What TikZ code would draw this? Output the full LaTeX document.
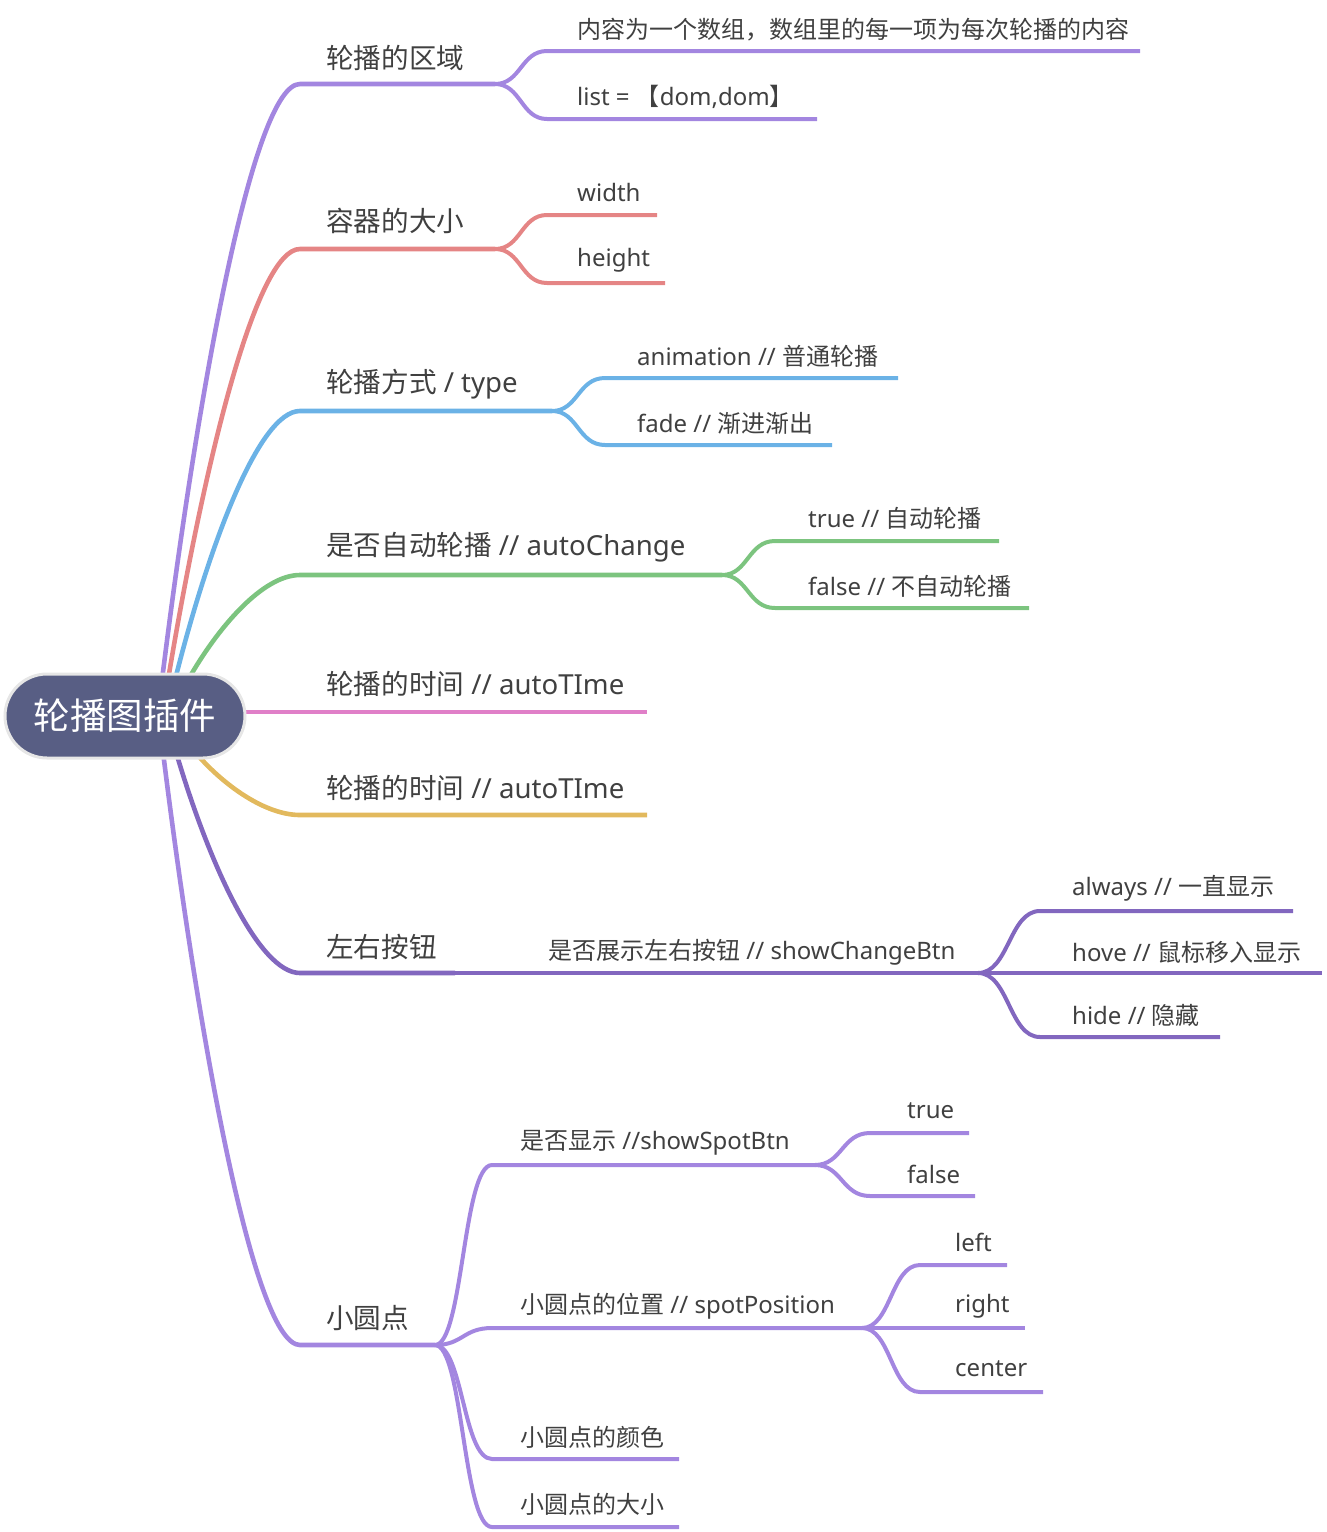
\documentclass[tikz,border=0pt]{standalone}
\usepackage{fontspec}
\setmainfont{Noto Sans CJK SC}
\newfontfamily\latinfont{Noto Sans}
\newcommand{\lt}[1]{{\latinfont #1}}
\definecolor{txt}{HTML}{404040}
\definecolor{rootfill}{HTML}{585E84}
\definecolor{rootedge}{HTML}{E6E6E6}
\definecolor{cpurple}{HTML}{A386E0}
\definecolor{cred}{HTML}{E58585}
\definecolor{cblue}{HTML}{6BB2E6}
\definecolor{cgreen}{HTML}{7CC47F}
\definecolor{cpink}{HTML}{E07FC8}
\definecolor{cyellow}{HTML}{E2B95D}
\definecolor{cdark}{HTML}{8267BF}
\begin{document}
\begin{tikzpicture}[x=1pt,y=-1pt,
  mainlink/.style={line width=4.6pt},
  sublink/.style={line width=4pt},
  lbl/.style={anchor=west, inner sep=0pt, text=txt, font=\fontsize{27.6}{32}\selectfont},
  sublbl/.style={anchor=west, inner sep=0pt, text=txt, font=\fontsize{24}{28}\selectfont},
  rootbox/.style={fill=rootfill, draw=rootedge, line width=3pt, rounded corners=42pt,
    minimum width=240pt, minimum height=84pt, text=white, font=\fontsize{36.5}{40}\selectfont}]
\useasboundingbox (0,0) rectangle (1326,1532);

% ---------- coordinates ----------
\coordinate (r1) at (162,680);
\coordinate (r2) at (168,680);
\coordinate (r3) at (175,680);
\coordinate (r4) at (188,680);
\coordinate (r5) at (240,712);
\coordinate (r6) at (195,752);
\coordinate (r7) at (176,752);
\coordinate (r8) at (163,752);

\coordinate (b1s) at (300,84);   \coordinate (b1e) at (495,84);
\coordinate (b2s) at (300,249);  \coordinate (b2e) at (495,249);
\coordinate (b3s) at (300,411);  \coordinate (b3e) at (552,411);
\coordinate (b4s) at (300,575);  \coordinate (b4e) at (722,575);
\coordinate (b5e) at (647,712);
\coordinate (b6s) at (300,815);  \coordinate (b6e) at (647,815);
\coordinate (b7s) at (300,973);  \coordinate (b7e) at (455,973);
\coordinate (c7e) at (978,973);
\coordinate (b8s) at (300,1345); \coordinate (b8e) at (435,1345);

% ---------- root curves ----------
\draw[mainlink, cpurple] (r1) .. controls (199,382) and (254,84) .. (b1s) -- (b1e);
\draw[mainlink, cred]    (r2) .. controls (204,464) and (256,249) .. (b2s) -- (b2e);
\draw[mainlink, cblue]   (r3) .. controls (209,545) and (259,411) .. (b3s) -- (b3e);
\draw[mainlink, cgreen]  (r4) .. controls (218,627) and (263,575) .. (b4s) -- (b4e);
\draw[mainlink, cpink]   (r5) -- (b5e);
\draw[mainlink, cyellow] (r6) .. controls (223,785) and (265,815) .. (b6s) -- (b6e);
\draw[mainlink, cdark]   (r7) .. controls (209,864) and (259,973) .. (b7s) -- (b7e);
\draw[mainlink, cdark]   (b7e) -- (c7e);
\draw[mainlink, cpurple] (r8) .. controls (200,1050) and (255,1345) .. (b8s) -- (b8e);

% ---------- root ----------
\node[rootbox] (root) at (125,716) {轮播图插件};

% ---------- branch 1 ----------
\node[lbl] (l1) at (326,58) {轮播的区域};
\coordinate (c1as) at (547,51);  \coordinate (c1ae) at (1140,51);
\coordinate (c1bs) at (547,119); \coordinate (c1be) at (817,119);
\draw[sublink, cpurple] (b1e) .. controls (521,84) and (521,51) .. (c1as) -- (c1ae);
\draw[sublink, cpurple] (b1e) .. controls (521,84) and (521,119) .. (c1bs) -- (c1be);
\node[sublbl] (l1a) at (577,30) {内容为一个数组，数组里的每一项为每次轮播的内容};
\node[sublbl] (l1b) at (577,97) {\lt{list = }【\lt{dom,dom}】};

% ---------- branch 2 ----------
\node[lbl] (l2) at (326,221) {容器的大小};
\coordinate (c2as) at (547,215); \coordinate (c2ae) at (657,215);
\coordinate (c2bs) at (547,283); \coordinate (c2be) at (665,283);
\draw[sublink, cred] (b2e) .. controls (521,249) and (521,215) .. (c2as) -- (c2ae);
\draw[sublink, cred] (b2e) .. controls (521,249) and (521,283) .. (c2bs) -- (c2be);
\node[sublbl] (l2a) at (577,192) {\lt{width}};
\node[sublbl] (l2b) at (577,260) {\lt{height}};

% ---------- branch 3 ----------
\node[lbl] (l3) at (326,384) {轮播方式\lt{ / type}};
\coordinate (c3as) at (605,378); \coordinate (c3ae) at (898,378);
\coordinate (c3bs) at (605,445); \coordinate (c3be) at (832,445);
\draw[sublink, cblue] (b3e) .. controls (578,411) and (578,378) .. (c3as) -- (c3ae);
\draw[sublink, cblue] (b3e) .. controls (578,411) and (578,445) .. (c3bs) -- (c3be);
\node[sublbl] (l3a) at (637,356) {\lt{animation // }普通轮播};
\node[sublbl] (l3b) at (637,423) {\lt{fade // }渐进渐出};

% ---------- branch 4 ----------
\node[lbl] (l4) at (326,547) {是否自动轮播\lt{ // autoChange}};
\coordinate (c4as) at (775,541); \coordinate (c4ae) at (999,541);
\coordinate (c4bs) at (775,608); \coordinate (c4be) at (1029,608);
\draw[sublink, cgreen] (b4e) .. controls (748,575) and (748,541) .. (c4as) -- (c4ae);
\draw[sublink, cgreen] (b4e) .. controls (748,575) and (748,608) .. (c4bs) -- (c4be);
\node[sublbl] (l4a) at (808,518) {\lt{true // }自动轮播};
\node[sublbl] (l4b) at (808,586) {\lt{false // }不自动轮播};

% ---------- branch 5, 6 ----------
\node[lbl] (l5) at (326,684) {轮播的时间\lt{ // autoTIme}};
\node[lbl] (l6) at (326,788) {轮播的时间\lt{ // autoTIme}};

% ---------- branch 7 ----------
\node[lbl] (l7) at (326,947) {左右按钮};
\node[sublbl] (l7c) at (548,952) {是否展示左右按钮\lt{ // showChangeBtn}};
\coordinate (d7as) at (1040,911); \coordinate (d7ae) at (1293,911);
\coordinate (d7be) at (1322,973);
\coordinate (d7cs) at (1040,1037); \coordinate (d7ce) at (1220,1037);
\draw[sublink, cdark] (c7e) .. controls (1009,973) and (1009,911) .. (d7as) -- (d7ae);
\draw[sublink, cdark] (c7e) -- (d7be);
\draw[sublink, cdark] (c7e) .. controls (1009,973) and (1009,1037) .. (d7cs) -- (d7ce);
\node[sublbl] (l7a) at (1072,888) {\lt{always // }一直显示};
\node[sublbl] (l7b) at (1072,952) {\lt{hove // }鼠标移入显示};
\node[sublbl] (l7d) at (1072,1015) {\lt{hide // }隐藏};

% ---------- branch 8 ----------
\node[lbl] (l8) at (326,1318) {小圆点};
\coordinate (c8as) at (492,1165); \coordinate (c8ae) at (815,1165);
\coordinate (c8bs) at (492,1328); \coordinate (c8be) at (862,1328);
\coordinate (c8cs) at (492,1459); \coordinate (c8ce) at (679,1459);
\coordinate (c8ds) at (492,1527); \coordinate (c8de) at (679,1527);
\draw[sublink, cpurple] (b8e) .. controls (463,1345) and (463,1165) .. (c8as) -- (c8ae);
\draw[sublink, cpurple] (b8e) .. controls (463,1345) and (463,1328) .. (c8bs) -- (c8be);
\draw[sublink, cpurple] (b8e) .. controls (463,1345) and (463,1459) .. (c8cs) -- (c8ce);
\draw[sublink, cpurple] (b8e) .. controls (463,1345) and (463,1527) .. (c8ds) -- (c8de);
\node[sublbl] (l8a) at (520,1143) {是否显示\lt{ //showSpotBtn}};
\node[sublbl] (l8b) at (520,1306) {小圆点的位置\lt{ // spotPosition}};
\node[sublbl] (l8c) at (520,1437) {小圆点的颜色};
\node[sublbl] (l8d) at (520,1504) {小圆点的大小};

\coordinate (d8as) at (870,1133); \coordinate (d8ae) at (969,1133);
\coordinate (d8bs) at (870,1196); \coordinate (d8be) at (975,1196);
\draw[sublink, cpurple] (c8ae) .. controls (842,1165) and (842,1133) .. (d8as) -- (d8ae);
\draw[sublink, cpurple] (c8ae) .. controls (842,1165) and (842,1196) .. (d8bs) -- (d8be);
\node[sublbl] (l8a1) at (907,1111) {\lt{true}};
\node[sublbl] (l8a2) at (907,1174) {\lt{false}};

\coordinate (e8as) at (920,1265); \coordinate (e8ae) at (1007,1265);
\coordinate (e8be) at (1025,1328);
\coordinate (e8cs) at (920,1392); \coordinate (e8ce) at (1043,1392);
\draw[sublink, cpurple] (c8be) .. controls (891,1328) and (891,1265) .. (e8as) -- (e8ae);
\draw[sublink, cpurple] (c8be) -- (e8be);
\draw[sublink, cpurple] (c8be) .. controls (891,1328) and (891,1392) .. (e8cs) -- (e8ce);
\node[sublbl] (l8b1) at (955,1242) {\lt{left}};
\node[sublbl] (l8b2) at (955,1306) {\lt{right}};
\node[sublbl] (l8b3) at (955,1369) {\lt{center}};
\end{tikzpicture}
\end{document}
